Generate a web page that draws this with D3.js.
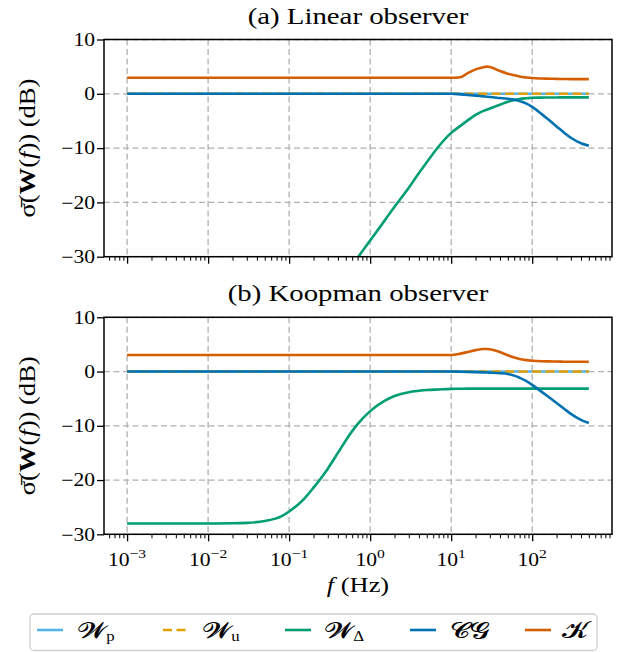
<!DOCTYPE html>
<html>
<head>
<meta charset="utf-8">
<script src="https://cdn.jsdelivr.net/npm/d3@7/dist/d3.min.js"></script>
<style>
  body { margin: 0; background: #fff; }
  svg { display: block; }
</style>
</head>
<body>
<svg width="626" height="652"></svg>
<script>
// frequency grid (Hz) shared by every curve
const freqs = [0.001, 0.002, 0.005, 0.01, 0.02, 0.03, 0.05, 0.08, 0.1, 0.15, 0.2, 0.3, 0.4, 0.5, 0.7,
               1, 1.5, 2, 3, 4, 5, 7, 10, 13, 16, 20, 25, 28, 30, 40, 50, 60, 70, 85, 100,
               130, 160, 200, 250, 300, 400, 500];

// (a) linear observer, max singular value in dB
const linWp = [0, 0, 0, 0, 0, 0, 0, 0, 0, 0, 0, 0, 0, 0, 0, 0, 0, 0, 0, 0, 0,
               0, 0, 0, 0, 0, 0, 0, 0, 0, 0, 0, 0, 0, 0, 0, 0, 0, 0, 0, 0, 0];
const linWu = [0, 0, 0, 0, 0, 0, 0, 0, 0, 0, 0, 0, 0, 0, 0, 0, 0, 0, 0, 0, 0,
               0, 0, 0, 0, 0, 0, 0, 0, 0, 0, 0, 0, 0, 0, 0, 0, 0, 0, 0, 0, 0];
const linWd = [null, null, null, null, null, null, null, null, null, null, null, null, -35.3, -33.3, -30.2,
               -27.0, -23.4, -20.8, -17.3, -14.6, -12.6, -9.7, -7.2, -5.9, -4.9, -3.9, -3.15, -2.9, -2.7, -2.0, -1.45, -1.12, -0.95, -0.82, -0.73,
               -0.7, -0.68, -0.67, -0.66, -0.66, -0.65, -0.65];
const linCG = [0, 0, 0, 0, 0, 0, 0, 0, 0, 0, 0, 0, 0, 0, 0,
               0, 0, 0, 0, 0, 0, 0, 0, -0.1, -0.2, -0.33, -0.48, -0.55, -0.6, -0.78, -0.92, -1.08, -1.35, -1.8, -2.4,
               -3.7, -4.8, -6.0, -7.2, -8.1, -9.1, -9.55];
const linK  = [2.95, 2.95, 2.95, 2.95, 2.95, 2.95, 2.95, 2.95, 2.95, 2.95, 2.95, 2.95, 2.95, 2.95, 2.95,
               2.95, 2.95, 2.95, 2.95, 2.95, 2.95, 2.95, 2.95, 3.05, 3.8, 4.5, 4.9, 5.0, 4.95, 4.2, 3.7, 3.4, 3.2, 3.0, 2.9,
               2.82, 2.78, 2.75, 2.72, 2.7, 2.7, 2.7];

// (b) Koopman observer
const koopWp = [0, 0, 0, 0, 0, 0, 0, 0, 0, 0, 0, 0, 0, 0, 0, 0, 0, 0, 0, 0, 0,
                0, 0, 0, 0, 0, 0, 0, 0, 0, 0, 0, 0, 0, 0, 0, 0, 0, 0, 0, 0, 0];
const koopWu = [0, 0, 0, 0, 0, 0, 0, 0, 0, 0, 0, 0, 0, 0, 0, 0, 0, 0, 0, 0, 0,
                0, 0, 0, 0, 0, 0, 0, 0, 0, 0, 0, 0, 0, 0, 0, 0, 0, 0, 0, 0, 0];
const koopWd = [-28, -28, -28, -28, -27.97, -27.9, -27.55, -26.7, -25.8, -23.6, -21.4, -17.9, -15.0, -12.7, -9.7,
                -7.3, -5.4, -4.5, -3.8, -3.55, -3.4, -3.3, -3.2, -3.17, -3.15, -3.15, -3.15, -3.15, -3.15, -3.15, -3.15, -3.15, -3.15, -3.15, -3.15,
                -3.15, -3.15, -3.15, -3.15, -3.15, -3.15, -3.15];
const koopCG = [0, 0, 0, 0, 0, 0, 0, 0, 0, 0, 0, 0, 0, 0, 0,
                0, 0, 0, 0, 0, 0, 0, 0, -0.03, -0.06, -0.1, -0.15, -0.18, -0.2, -0.3, -0.45, -0.75, -1.15, -1.75, -2.45,
                -3.7, -4.7, -5.8, -6.9, -7.8, -8.9, -9.5];
const koopK  = [3.05, 3.05, 3.05, 3.05, 3.05, 3.05, 3.05, 3.05, 3.05, 3.05, 3.05, 3.05, 3.05, 3.05, 3.05,
                3.05, 3.05, 3.05, 3.05, 3.05, 3.05, 3.05, 3.05, 3.3, 3.6, 3.95, 4.15, 4.15, 4.1, 3.6, 3.0, 2.6, 2.3, 2.1, 2.0,
                1.9, 1.87, 1.85, 1.82, 1.8, 1.8, 1.8];

const yTicks = [10, 0, -10, -20, -30];
const xTicks = [1e-3, 1e-2, 1e-1, 1e0, 1e1, 1e2];
const xTickExp = ["−3", "−2", "−1", "0", "1", "2"];

const titles = ["(a) Linear observer", "(b) Koopman observer"];
const seriesKeys = ["Wp", "Wu", "Wd", "CG", "K"];
const legendSym = { Wp: "𝓦", Wu: "𝓦", Wd: "𝓦", CG: "𝓒𝓖", K: "𝓚" };
const legendSub = { Wp: "p", Wu: "u", Wd: "Δ", CG: "", K: "" };

const colors = { Wp: "#56B4E9", Wu: "#E69F00", Wd: "#009E73", CG: "#0072B2", K: "#D55E00" };

let panelData = [
    { Wp: linWp, Wu: linWu, Wd: linWd, CG: linCG, K: linK },
    { Wp: koopWp, Wu: koopWu, Wd: koopWd, CG: koopCG, K: koopK }
];

const serif = "Liberation Serif";

let svg = d3.select("svg");
let left = 104, right = 612;
let panels = [{ top: 39.5, bottom: 256.7 }, { top: 317.3, bottom: 534.3 }];
let sx = 1.2;   // glyphs are drawn a bit wider than the font's own shapes

let xScale = d3.scaleLog()
    .domain([Math.pow(10, -3.285), Math.pow(10, 2.985)])
    .range([left, right]);

let minorTicks = xScale.ticks().filter(t => !xTicks.some(m => Math.abs(m - t) / m < 1e-6));

let line = (yScale) => d3.line()
    .defined(d => d[1] !== null)
    .x(d => xScale(d[0]))
    .y(d => yScale(d[1]))
    .curve(d3.curveMonotoneX);

let addText = (parent, x, y, size) => parent.append("text")
    .attr("transform", "translate(" + x + "," + y + ") scale(" + sx + ",1)")
    .style("font-family", serif)
    .style("font-size", size + "px");

panels.forEach((p, k) => {
    let yScale = d3.scaleLinear().domain([-30, 10]).range([p.bottom, p.top]);
    let g = svg.append("g");

    g.append("clipPath").attr("id", "clip" + k)
        .append("rect")
        .attr("x", left).attr("y", p.top)
        .attr("width", right - left).attr("height", p.bottom - p.top);

    // dashed grid
    g.append("g").selectAll("line")
        .data(xTicks)
        .enter().append("line")
        .attr("x1", d => xScale(d)).attr("x2", d => xScale(d))
        .attr("y1", p.top).attr("y2", p.bottom)
        .attr("stroke", "#b0b0b0").attr("stroke-width", 1.3).attr("stroke-dasharray", "6,3.5");
    g.append("g").selectAll("line")
        .data(yTicks)
        .enter().append("line")
        .attr("x1", left).attr("x2", right)
        .attr("y1", d => yScale(d)).attr("y2", d => yScale(d))
        .attr("stroke", "#b0b0b0").attr("stroke-width", 1.3).attr("stroke-dasharray", "6,3.5");

    // curves
    let curves = g.append("g").attr("clip-path", "url(#clip" + k + ")");
    seriesKeys.forEach(key => {
        let pts = freqs.map((f, i) => [f, panelData[k][key][i]]);
        curves.append("path")
            .datum(pts)
            .attr("d", line(yScale))
            .attr("fill", "none")
            .attr("stroke", colors[key])
            .attr("stroke-width", 2.6)
            .attr("stroke-dasharray", key === "Wu" ? "9,4.5" : null);
    });

    // axes
    let xAxis = g.append("g")
        .attr("transform", "translate(0," + p.bottom + ")")
        .call(d3.axisBottom(xScale).tickValues(xTicks).tickSize(7).tickSizeOuter(0).tickFormat(""));
    xAxis.select(".domain").remove();
    xAxis.selectAll("line").attr("stroke-width", 1.3);

    let xMinor = g.append("g")
        .attr("transform", "translate(0," + p.bottom + ")")
        .call(d3.axisBottom(xScale).tickValues(minorTicks).tickSize(4).tickSizeOuter(0).tickFormat(""));
    xMinor.select(".domain").remove();
    xMinor.selectAll("line").attr("stroke-width", 1);

    let yAxis = g.append("g")
        .attr("transform", "translate(" + left + ",0)")
        .call(d3.axisLeft(yScale).tickValues(yTicks).tickSize(7).tickSizeOuter(0).tickFormat(d3.format("d")));
    yAxis.select(".domain").remove();
    yAxis.selectAll("line").attr("stroke-width", 1.3);
    yAxis.selectAll("text")
        .style("font-family", serif)
        .style("font-size", "18px")
        .attr("x", -9 / sx)
        .attr("transform", "scale(" + sx + ",1)");

    g.append("rect")
        .attr("x", left).attr("y", p.top)
        .attr("width", right - left).attr("height", p.bottom - p.top)
        .attr("fill", "none").attr("stroke", "#000").attr("stroke-width", 1.5);

    // title
    addText(g, (left + right) / 2, p.top - 16, 24)
        .attr("text-anchor", "middle")
        .text(titles[k]);

    // y label
    let yl = g.append("text")
        .attr("transform", "translate(35," + ((p.top + p.bottom) / 2) + ") rotate(-90)")
        .attr("text-anchor", "middle")
        .style("font-family", serif)
        .style("font-size", "23px")
        .attr("textLength", 139)
        .attr("lengthAdjust", "spacingAndGlyphs");
    yl.append("tspan").text("σ\u0304(");
    yl.append("tspan").attr("font-weight", "bold").text("W");
    yl.append("tspan").text("(");
    yl.append("tspan").attr("font-style", "italic").text("f");
    yl.append("tspan").text(")) (dB)");

    // tick labels with powers of ten on the lower panel only
    if (k === 1) {
        xTicks.forEach((t, i) => {
            let lab = addText(g, xScale(t), p.bottom + 32, 18)
                .attr("text-anchor", "middle");
            lab.append("tspan").text("10");
            lab.append("tspan").style("font-size", "13px").attr("dy", -8).text(xTickExp[i]);
        });

        let xl = addText(g, (left + right) / 2, p.bottom + 58, 22)
            .attr("text-anchor", "middle");
        xl.append("tspan").attr("font-style", "italic").text("f");
        xl.append("tspan").text("  (Hz)");
    }
});

// legend below the panels
let legend = svg.append("g");
legend.append("rect")
    .attr("x", 30).attr("y", 614)
    .attr("width", 567).attr("height", 36.5)
    .attr("rx", 4)
    .attr("fill", "#fff").attr("stroke", "#d0d0d0").attr("stroke-width", 1.3);

let handleX = [37, 163, 285, 410, 525];
let labelX = [78, 203, 325, 450, 562];

seriesKeys.forEach((key, i) => {
    legend.append("line")
        .attr("x1", handleX[i]).attr("x2", handleX[i] + 26)
        .attr("y1", 630).attr("y2", 630)
        .attr("stroke", colors[key])
        .attr("stroke-width", 2.6)
        .attr("stroke-dasharray", key === "Wu" ? "9,4.5" : null);
    let t = addText(legend, labelX[i], 638, 23);
    t.append("tspan").text(legendSym[key]);
    if (legendSub[key] !== "") {
        t.append("tspan").style("font-size", "14px").attr("dy", 3).text(legendSub[key]);
    }
});
</script>
</body>
</html>
